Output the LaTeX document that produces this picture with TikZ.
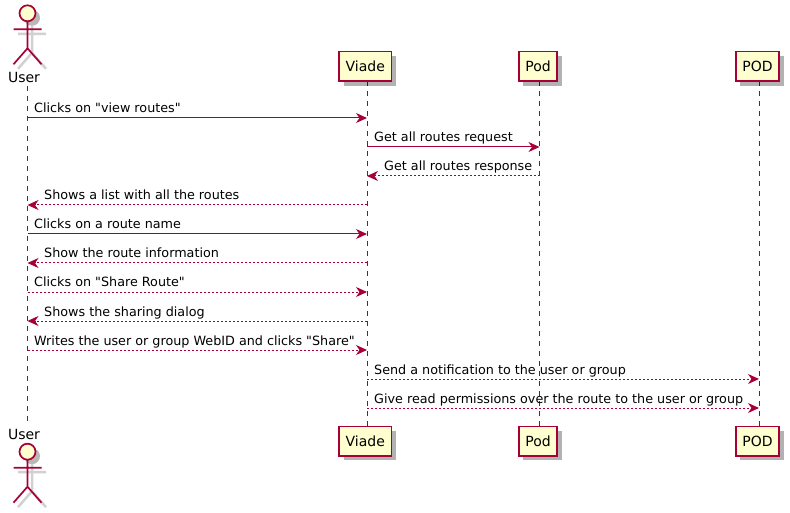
\documentclass[tikz,border=0pt]{standalone}
\usepackage{fontspec}
\setmainfont{DejaVu Sans}
\usetikzlibrary{
    arrows.meta,
    shadows
}
\definecolor{umlLine}{HTML}{A80036}
\definecolor{umlFill}{HTML}{FEFECE}
\tikzset{
    partbox/.style={draw=umlLine, fill=umlFill, line width=1.5pt, minimum height=29.5pt,
        inner xsep=6.5pt, inner ysep=0pt, text=black, font=\fontsize{14}{16}\selectfont,
        drop shadow={shadow xshift=4.5pt, shadow yshift=-4.5pt, fill=black, opacity=0.3}},
    actorname/.style={inner sep=0pt, text=black, anchor=base, font=\fontsize{14}{16}\selectfont},
    msgtext/.style={inner sep=0pt, anchor=base west, text=black, font=\fontsize{12.75}{15}\selectfont},
    lifeline/.style={draw=umlLine, line width=1pt, dash pattern=on 5pt off 5pt},
    solidmsg/.style={draw=umlLine, line width=1pt, -{Stealth[length=11pt,width=10pt,inset=3.5pt]}},
    dashmsg/.style={solidmsg, dash pattern=on 2pt off 2pt},
    actor/.pic={
        \begin{scope}[shift={(4.5,4.5)}, draw=black!18, line width=2.5pt]
            \fill[black!28] (0,0) circle (8);
            \draw (0,8) -- (0,35) (-14,16) -- (14,16) (0,35) -- (-14,51) (0,35) -- (14,51);
        \end{scope}
        \draw[umlLine, line width=1.7pt] (0,8) -- (0,35) (-14,16) -- (14,16) (0,35) -- (-14,51) (0,35) -- (14,51);
        \draw[umlLine, fill=umlFill, line width=1.7pt] (0,0) circle (8);
    }
}
\begin{document}
\begin{tikzpicture}[x=1pt, y=-1pt]
    \path[fill=white, use as bounding box] (0,0) rectangle (790,513);
    % lifelines
    \coordinate (user) at (27.5,86);
    \coordinate (userEnd) at (27.5,422);
    \coordinate (viade) at (367,81);
    \coordinate (viadeEnd) at (367,426);
    \coordinate (pod) at (539.5,81);
    \coordinate (podEnd) at (539.5,426);
    \coordinate (solid) at (759,81);
    \coordinate (solidEnd) at (759,426);
    \foreach \who in {user,viade,pod,solid}
        \draw[lifeline] (\who) -- (\who End);
    % participants
    \pic at (27.5,13.3) {actor};
    \pic at (27.5,451.7) {actor};
    \node[actorname] (userTop) at (24,83) {User};
    \node[actorname] (userBot) at (24,439) {User};
    \node[partbox] (viadeTop) at (365.3,66.5) {Viade};
    \node[partbox] (viadeBot) at (365.3,441) {Viade};
    \node[partbox] (podTop) at (538,66.5) {Pod};
    \node[partbox] (podBot) at (538,441) {Pod};
    \node[partbox] (solidTop) at (757.5,66.5) {POD};
    \node[partbox] (solidBot) at (757.5,441) {POD};
    % messages
    \foreach \i/\y/\from/\to/\kind/\tx/\txt in {
        1/118/user/viade/solidmsg/34/{Clicks on \textquotedbl view routes\textquotedbl},
        2/147/viade/pod/solidmsg/374/{Get all routes request},
        3/176/pod/viade/dashmsg/384/{Get all routes response},
        4/205/viade/user/dashmsg/44/{Shows a list with all the routes},
        5/234/user/viade/solidmsg/34/{Clicks on a route name},
        6/263/viade/user/dashmsg/44/{Show the route information},
        7/292/user/viade/dashmsg/34/{Clicks on \textquotedbl Share Route\textquotedbl},
        8/321/viade/user/dashmsg/44/{Shows the sharing dialog},
        9/350/user/viade/dashmsg/34/{Writes the user or group WebID and clicks \textquotedbl Share\textquotedbl},
        10/379/viade/solid/dashmsg/374/{Send a notification to the user or group},
        11/408/viade/solid/dashmsg/374/{Give read permissions over the route to the user or group}}
    {
        \coordinate (a\i) at (\from |- 0,\y);
        \coordinate (b\i) at (\to |- 0,\y);
        \draw[\kind] (a\i) -- (b\i);
        \node[msgtext] (m\i) at (\tx,\y-5) {\txt};
    }
\end{tikzpicture}
\end{document}
